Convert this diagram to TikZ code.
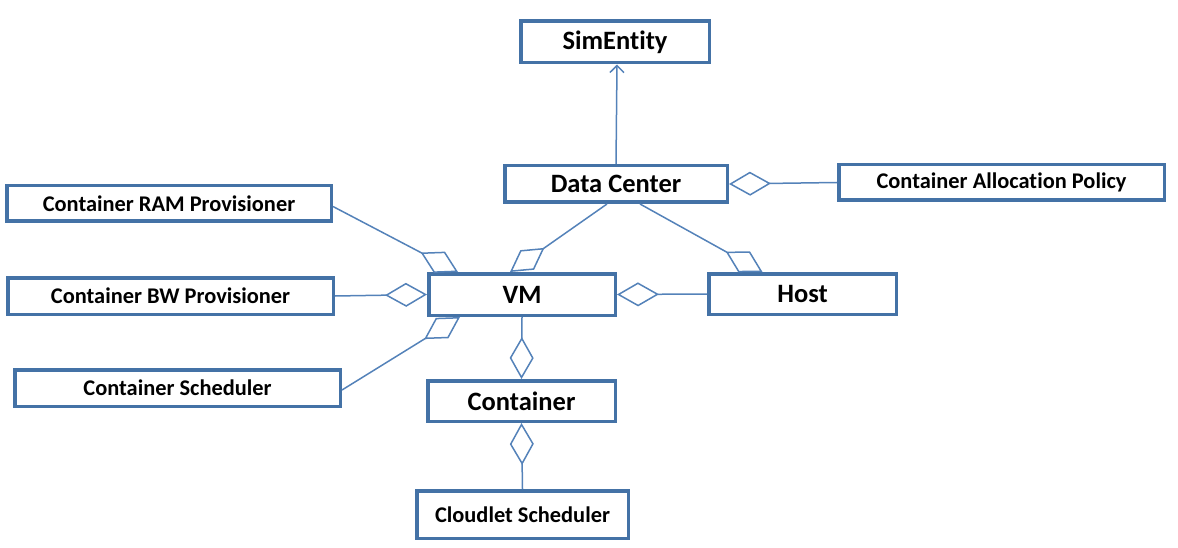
\documentclass[tikz,border=0pt]{standalone}
\usepackage{fontspec}
\setmainfont{Carlito}[Ligatures=NoCommon]
\usetikzlibrary{arrows.meta}
\definecolor{boxblue}{RGB}{68,114,166}
\definecolor{lineblue}{RGB}{84,130,185}
\tikzset{
  cls/.style={draw=boxblue, line width=3.5pt, fill=white, inner sep=0pt, font=\bfseries\fontsize{22.4}{26}\selectfont, text=black},
  bigcls/.style={cls, font=\bfseries\fontsize{26.5}{30}\selectfont},
  conn/.style={draw=lineblue, line width=1.5pt},
  agg/.style={conn, -{Diamond[open, fill=white, length=42pt, width=24pt, line width=1.5pt]}},
  gen/.style={conn, -{Straight Barb[length=7pt, width=14pt, line width=1.5pt]}}
}
\begin{document}
\begin{tikzpicture}[x=1pt, y=-1pt]
\useasboundingbox (0,0) rectangle (1178,548);
\node[bigcls, minimum width=188.5pt, minimum height=41.5pt] (se) at (615,42) {SimEntity};
\node[bigcls, minimum width=222.5pt, minimum height=36.5pt] (dc) at (616,184) {Data Center};
\node[cls, minimum width=325.5pt, minimum height=35.5pt] (cap) at (1001.5,182.5) {Container Allocation Policy};
\node[cls, minimum width=324.5pt, minimum height=35.5pt] (ram) at (169,203.5) {Container RAM Provisioner};
\node[cls, minimum width=325.5pt, minimum height=36.5pt] (bw) at (170.5,296) {Container BW Provisioner};
\node[cls, minimum width=325.5pt, minimum height=36.5pt] (cs) at (177.5,388) {Container Scheduler};
\node[bigcls, minimum width=186.5pt, minimum height=41.5pt] (vm) at (522,294.5) {VM};
\node[bigcls, minimum width=187.5pt, minimum height=40.5pt] (host) at (802.5,294) {Host};
\node[bigcls, minimum width=187.5pt, minimum height=40.5pt] (cont) at (521.5,401) {Container};
\node[cls, minimum width=211.5pt, minimum height=47.5pt] (cl) at (522.5,514.5) {Cloudlet Scheduler};

\draw[gen] (dc.north) -- ([xshift=2pt]se.south);
\draw[agg] (cap.west) -- (dc.east);
\draw[agg] ([xshift=-9pt]dc.south) -- ([xshift=-12pt]vm.north);
\draw[agg] ([xshift=24pt]dc.south) -- ([xshift=-40pt]host.north);
\draw[agg] (host.west) -- (vm.east);
\draw[agg] ([yshift=-3pt]ram.east) -- ([xshift=-64pt]vm.north);
\draw[agg] (bw.east) -- (vm.west);
\draw[agg] ([yshift=-2pt]cs.east) -- ([xshift=-62pt]vm.south);
\draw[agg] (vm.south) -- (cont.north);
\draw[agg] (cl.north) -- (cont.south);
\end{tikzpicture}
\end{document}
